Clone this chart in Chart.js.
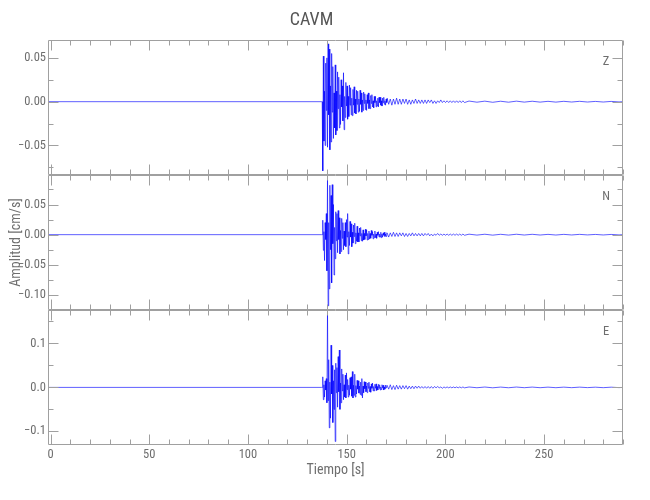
<!DOCTYPE html>
<html><head><meta charset="utf-8">
<script src="https://cdn.jsdelivr.net/npm/chart.js@4/dist/chart.umd.min.js"></script>
<style>html,body{margin:0;padding:0;background:#fff}#wrap{width:650px;height:500px}</style>
</head><body><div id="wrap"><canvas id="c" width="650" height="500"></canvas></div>
<script>
// ---------- data ----------
const stationName = 'CAVM';
const componentNames = ['Z', 'N', 'E'];
const xTickValues = [0, 50, 100, 150, 200, 250];

const zTickValues = [-0.05, 0, 0.05];
const zTickLabels = ['\u22120.05', '0.00', '0.05'];
const nTickValues = [-0.10, -0.05, 0, 0.05];
const nTickLabels = ['\u22120.10', '\u22120.05', '0.00', '0.05'];
const eTickValues = [-0.1, 0, 0.1];
const eTickLabels = ['\u22120.1', '0.0', '0.1'];

// sampling of the hand-read traces (seconds)
const traceStart = -1.3, traceEnd = 290;
const denseStart = 137.6, denseStep = 0.3;
const tailStart = 170.5, tailStep = 0.8;
const postStart = 212, postStep = 4;

// Z component (cm/s)
const zDense = [0.000,-0.079,0.052,-0.045,0.012,-0.050,0.044,-0.010,0.050,-0.052,
 0.066,-0.015,0.060,-0.055,0.018,-0.046,0.055,-0.012,0.040,-0.042,
 0.010,-0.030,0.042,-0.038,0.012,-0.033,0.034,-0.008,0.028,-0.030,
 0.008,-0.026,0.025,-0.006,0.018,-0.022,0.033,-0.032,0.006,-0.018,
 0.022,-0.005,0.018,-0.020,0.006,-0.017,0.019,-0.004,0.016,-0.015,
 0.004,-0.016,0.014,-0.004,0.017,-0.013,0.003,-0.014,0.013,-0.003,
 0.012,-0.012,0.003,-0.011,0.013,-0.003,0.010,-0.012,0.002,-0.010,
 0.011,-0.002,0.009,-0.009,0.002,-0.010,0.008,-0.002,0.010,-0.008,
 0.002,-0.008,0.007,-0.002,0.008,-0.006,0.001,-0.007,0.006,-0.001,
 0.006,-0.006,0.001,-0.005,0.004,-0.006,0.005,-0.001,0.005,-0.004,
 0.001,-0.005,0.004,-0.001,0.005,-0.003,0.001,-0.004,0.003,-0.001];
const zTail = [0.004,-0.003,0.003,-0.004,0.003,-0.003,0.004,-0.003,0.003,-0.003,
 0.003,-0.002,0.003,-0.003,0.002,-0.003,0.002,-0.002,0.003,-0.002,
 0.002,-0.002,0.002,-0.002,0.002,-0.002,0.002,-0.001,0.002,-0.002,
 0.001,-0.002,0.001,-0.001,0.002,-0.001,0.001,-0.001,0.001,-0.001,
 0.001,-0.001,0.001,-0.001,0.001,-0.001,0.001,-0.001,0.001,-0.001];
const zPost = [0.0007,-0.0006,0.0006,-0.0007,0.0005,-0.0006,0.0006,-0.0005,0.0005,-0.0005,
 0.0004,-0.0005,0.0004,-0.0004,0.0004,-0.0004,0.0003,-0.0004,0.0003,-0.0003];

// N component (cm/s)
const nDense = [0.000,0.024,-0.026,0.005,-0.043,0.020,-0.008,0.035,-0.060,0.092,
 -0.118,0.020,-0.090,0.082,-0.025,0.065,-0.080,0.083,-0.015,0.050,
 -0.067,0.012,-0.040,0.038,-0.010,0.035,-0.030,0.040,-0.008,0.028,
 -0.032,0.007,-0.028,0.027,-0.006,0.020,-0.025,0.006,-0.018,0.020,
 -0.020,0.025,-0.004,0.035,-0.032,0.005,-0.018,0.022,-0.004,0.018,
 -0.020,0.004,-0.014,0.016,-0.003,0.019,-0.015,0.003,-0.011,0.014,
 -0.012,0.003,-0.012,0.011,-0.002,0.012,-0.010,0.002,-0.011,0.008,
 -0.009,0.002,-0.008,0.009,-0.002,0.008,-0.009,0.002,-0.008,0.006,
 -0.007,0.002,-0.006,0.007,-0.001,0.005,-0.007,0.001,-0.005,0.006,
 -0.005,0.001,-0.006,0.004,-0.001,0.005,-0.004,0.001,-0.004,0.004,
 -0.005,0.001,-0.004,0.003,-0.001,0.004,-0.003,0.001,-0.003,0.003];
const nTail = [0.003,-0.004,0.003,-0.003,0.004,-0.003,0.003,-0.003,0.003,-0.002,
 0.003,-0.003,0.002,-0.003,0.002,-0.002,0.003,-0.002,0.002,-0.002,
 0.002,-0.002,0.002,-0.002,0.002,-0.001,0.002,-0.002,0.001,-0.002,
 0.001,-0.001,0.002,-0.001,0.001,-0.001,0.001,-0.001,0.001,-0.001,
 0.001,-0.001,0.001,-0.001,0.001,-0.001,0.001,-0.001,0.001,-0.001];
const nPost = [0.0008,-0.0007,0.0007,-0.0008,0.0006,-0.0007,0.0007,-0.0006,0.0006,-0.0006,
 0.0005,-0.0006,0.0005,-0.0005,0.0005,-0.0004,0.0004,-0.0005,0.0004,-0.0004];

// E component (cm/s)
const eDense = [0.000,0.024,-0.028,0.006,-0.022,0.015,-0.006,0.020,-0.035,0.170,
 -0.030,0.063,-0.092,0.012,-0.070,0.096,-0.015,0.050,-0.080,0.015,
 -0.050,0.040,-0.123,0.055,-0.012,0.045,-0.045,0.070,-0.010,0.085,
 -0.050,0.010,-0.035,0.042,-0.008,0.030,-0.028,0.006,-0.022,0.028,
 -0.024,0.033,-0.005,0.018,-0.022,0.005,-0.018,0.022,-0.004,0.024,
 -0.020,0.036,-0.024,0.005,-0.018,0.030,-0.022,0.004,-0.015,0.016,
 -0.004,0.015,-0.013,0.003,-0.016,0.012,-0.018,0.020,-0.024,0.003,
 -0.012,0.013,-0.003,0.012,-0.010,0.003,-0.012,0.010,-0.002,0.012,
 -0.010,0.002,-0.011,0.008,-0.002,0.010,-0.008,0.002,-0.008,0.007,
 -0.002,0.008,-0.007,0.002,-0.006,0.007,-0.002,0.006,-0.006,0.001,
 -0.005,0.006,-0.001,0.005,-0.006,0.001,-0.004,0.005,-0.001,0.004];
const eTail = [0.005,-0.004,0.006,-0.005,0.004,-0.005,0.005,-0.004,0.004,-0.004,
 0.004,-0.003,0.004,-0.004,0.003,-0.003,0.003,-0.003,0.003,-0.002,
 0.003,-0.002,0.002,-0.002,0.002,-0.002,0.002,-0.002,0.002,-0.002,
 0.002,-0.001,0.002,-0.001,0.001,-0.002,0.001,-0.001,0.001,-0.001,
 0.001,-0.001,0.001,-0.001,0.001,-0.001,0.001,-0.001,0.001,-0.001];
const ePost = [0.0009,-0.0008,0.0008,-0.0009,0.0007,-0.0008,0.0008,-0.0007,0.0007,-0.0007,
 0.0006,-0.0007,0.0006,-0.0006,0.0006,-0.0005,0.0005,-0.0006,0.0005,-0.0005];

// ---------- build points ----------
function segment(vals, t0, dt) { return vals.map((v, i) => ({ x: t0 + i * dt, y: v })); }
function trace(dense, tail, post) {
  return [{ x: traceStart, y: 0 }, { x: denseStart - 0.3, y: 0 }]
    .concat(segment(dense, denseStart, denseStep))
    .concat(segment(tail, tailStart, tailStep))
    .concat(segment(post, postStart, postStep))
    .concat([{ x: traceEnd, y: 0 }]);
}

const FONT = "'Liberation Sans Narrow','Roboto Condensed','DejaVu Sans Condensed','Liberation Sans',sans-serif";
const TXT = '#6e6e6e';
const AX = '#a0a0a0';

const panels = [
  { id: 'yZ', name: componentNames[0], min: -0.0837, max: 0.0704, ticks: zTickValues, labels: zTickLabels, minor: 0.025 },
  { id: 'yN', name: componentNames[1], min: -0.125, max: 0.099, ticks: nTickValues, labels: nTickLabels, minor: 0.025 },
  { id: 'yE', name: componentNames[2], min: -0.131, max: 0.176, ticks: eTickValues, labels: eTickLabels, minor: 0.05 }
];

function yScale(p, withTitle) {
  return {
    type: 'linear', position: 'left', stack: 'panels', stackWeight: 1,
    min: p.min, max: p.max,
    grid: { display: false, drawTicks: false },
    border: { display: false },
    afterBuildTicks: s => { s.ticks = p.ticks.map(v => ({ value: v })); },
    afterFit: s => { s.width = 48; },
    ticks: {
      autoSkip: false, padding: 2, color: TXT, font: { family: FONT, size: 12.5 },
      callback: (v, i) => p.labels[i]
    },
    title: withTitle ? { display: true, text: 'Amplitud [cm/s]', color: TXT,
      font: { family: FONT, size: 14 }, padding: { top: 8, bottom: 0 } } : { display: false }
  };
}

const framePlugin = {
  id: 'frame',
  afterDraw(chart) {
    const ctx = chart.ctx, ca = chart.chartArea, xs = chart.scales.x;
    const L = Math.round(ca.left) + 0.5, R = Math.round(ca.right) - 0.5;
    ctx.save();
    ctx.strokeStyle = AX; ctx.lineWidth = 1;
    panels.forEach(p => {
      const ys = chart.scales[p.id];
      const T = Math.round(ys.top) + 0.5, B = Math.round(ys.bottom) - 0.5;
      ctx.beginPath();
      ctx.rect(L, T, R - L, B - T);
      const k0 = Math.ceil(p.min / p.minor - 1e-9), k1 = Math.floor(p.max / p.minor + 1e-9);
      for (let k = k0; k <= k1; k++) {
        const v = k * p.minor;
        const major = p.ticks.some(t => Math.abs(t - v) < 1e-9);
        const len = major ? 10 : 5;
        const y = Math.round(ys.getPixelForValue(v)) + 0.5;
        ctx.moveTo(L, y); ctx.lineTo(L + len, y);
        ctx.moveTo(R, y); ctx.lineTo(R - len, y);
      }
      for (let v = 0; v <= 290; v += 10) {
        const major = xTickValues.includes(v);
        const len = major ? 10 : 5;
        const x = Math.round(xs.getPixelForValue(v)) + 0.5;
        ctx.moveTo(x, T); ctx.lineTo(x, T + len);
        ctx.moveTo(x, B); ctx.lineTo(x, B - len);
      }
      ctx.stroke();
      ctx.fillStyle = TXT;
      ctx.font = '12.5px ' + FONT;
      ctx.textAlign = 'center'; ctx.textBaseline = 'middle';
      ctx.fillText(p.name, ca.right - 17, ys.top + 22);
    });
    ctx.restore();
  }
};

const traceColor = 'rgba(0,0,255,0.7)';
const datasets = [
  { data: trace(zDense, zTail, zPost), yAxisID: 'yZ' },
  { data: trace(nDense, nTail, nPost), yAxisID: 'yN' },
  { data: trace(eDense, eTail, ePost), yAxisID: 'yE' }
].map(d => Object.assign(d, { borderColor: traceColor, borderWidth: 0.9, pointRadius: 0, tension: 0, fill: false }));

new Chart(document.getElementById('c'), {
  type: 'line',
  data: { datasets },
  options: {
    responsive: false, animation: false, parsing: false, normalized: true,
    layout: { padding: { left: 0, right: 27, top: 0, bottom: 0 } },
    plugins: {
      legend: { display: false }, tooltip: { enabled: false },
      title: { display: true, text: stationName, color: '#555',
        font: { family: FONT, size: 18, weight: 'normal' }, padding: { top: 10, bottom: 8.4 } }
    },
    scales: {
      x: {
        type: 'linear', position: 'bottom', min: -1.3, max: 290,
        grid: { display: false, drawTicks: false }, border: { display: false },
        afterBuildTicks: s => { s.ticks = xTickValues.map(v => ({ value: v })); },
        afterFit: s => { s.height = 55; },
        ticks: { autoSkip: false, maxRotation: 0, padding: 2, color: TXT, font: { family: FONT, size: 12.5 },
          callback: v => String(v) },
        title: { display: true, text: 'Tiempo [s]', color: TXT, font: { family: FONT, size: 14 },
          padding: { top: 0, bottom: 20.8 } }
      },
      yE: yScale(panels[2], false),
      yN: yScale(panels[1], true),
      yZ: yScale(panels[0], false)
    }
  },
  plugins: [framePlugin]
});
</script>
</body></html>
